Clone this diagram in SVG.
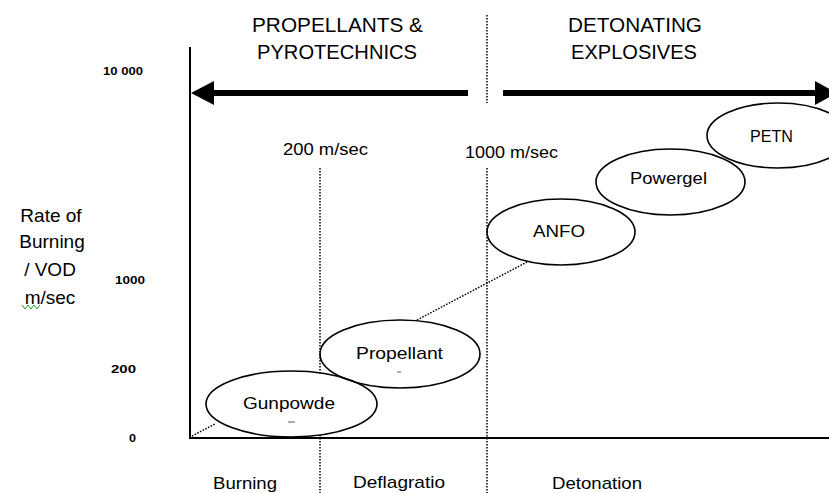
<svg xmlns="http://www.w3.org/2000/svg" width="829" height="493" viewBox="0 0 829 493">
<style>
text{font-family:"Liberation Sans",Arial,sans-serif;fill:#000}
.title{font-size:20px}
.num{font-size:11px;font-weight:bold}
.lbl{font-size:17px}
.axis{font-size:19px}
.dot{stroke:#000;stroke-width:1.5;stroke-dasharray:1.5 1.5;fill:none}
.node{stroke:#000;stroke-width:1.6;fill:none}
.thick{stroke:#000;stroke-width:6}
</style>
<rect width="829" height="493" fill="#fff"/>
<g id="headings">
<text class="title" x="252" y="32" textLength="171" lengthAdjust="spacingAndGlyphs">PROPELLANTS &amp;</text>
<text class="title" x="257" y="59" textLength="160" lengthAdjust="spacingAndGlyphs">PYROTECHNICS</text>
<text class="title" x="568" y="32" textLength="134" lengthAdjust="spacingAndGlyphs">DETONATING</text>
<text class="title" x="571" y="59" textLength="126" lengthAdjust="spacingAndGlyphs">EXPLOSIVES</text>
</g>
<g id="axes">
<line x1="190" y1="47" x2="190" y2="439" stroke="#000" stroke-width="2"/>
<line x1="189" y1="438" x2="829" y2="438" stroke="#000" stroke-width="2"/>
<line class="dot" x1="487" y1="15" x2="487" y2="103"/>
<line class="dot" x1="320" y1="168" x2="320" y2="493"/>
<line class="dot" x1="487" y1="168" x2="487" y2="493"/>
</g>
<g id="arrows">
<line class="thick" x1="210" y1="93" x2="468" y2="93"/>
<polygon points="191,93 214,81 214,105"/>
<line class="thick" x1="503" y1="93" x2="818" y2="93"/>
<polygon points="815,81 837,93 815,105"/>
</g>
<g id="ylabels">
<text class="num" x="103" y="75" textLength="40" lengthAdjust="spacingAndGlyphs">10 000</text>
<text class="num" x="115" y="284" textLength="30" lengthAdjust="spacingAndGlyphs">1000</text>
<text class="num" x="111" y="373" textLength="25" lengthAdjust="spacingAndGlyphs">200</text>
<text class="num" x="129" y="442" textLength="7" lengthAdjust="spacingAndGlyphs">0</text>
<text class="axis" x="51" y="222" text-anchor="middle">Rate of</text>
<text class="axis" x="52" y="248" text-anchor="middle">Burning</text>
<text class="axis" x="50" y="276" text-anchor="middle">/ VOD</text>
<text class="axis" x="50" y="304" text-anchor="middle">m/sec</text>
<polyline points="22,305 25,309 28,305 31,309 34,305 37,309 40,305" fill="none" stroke="#2a9d2a" stroke-width="1"/>
</g>
<g id="speeds">
<text class="lbl" x="283" y="155" textLength="85" lengthAdjust="spacingAndGlyphs" font-size="15">200 m/sec</text>
<text class="lbl" x="465" y="158" textLength="93" lengthAdjust="spacingAndGlyphs" font-size="15">1000 m/sec</text>
</g>
<g id="xlabels">
<text class="lbl" x="213" y="489" textLength="64" lengthAdjust="spacingAndGlyphs">Burning</text>
<text class="lbl" x="353" y="488" textLength="92" lengthAdjust="spacingAndGlyphs">Deflagratio</text>
<text class="lbl" x="552" y="489" textLength="90" lengthAdjust="spacingAndGlyphs">Detonation</text>
</g>
<g id="connectors">
<line class="dot" x1="192" y1="436" x2="215" y2="424"/>
<line class="dot" x1="417" y1="320" x2="527" y2="262"/>
</g>
<g id="gunpowder">
<ellipse cx="291.5" cy="404" rx="85.5" ry="33" fill="#fff" stroke="#000" stroke-width="1.6"/>
<text class="lbl" x="243" y="409" textLength="92" lengthAdjust="spacingAndGlyphs">Gunpowde</text>
<line x1="288" y1="422" x2="295" y2="422" stroke="#777" stroke-width="1.2"/>
</g>
<g id="propellant">
<ellipse class="node" cx="400" cy="354" rx="80" ry="34"/>
<text class="lbl" x="356" y="359" textLength="87" lengthAdjust="spacingAndGlyphs">Propellant</text>
<line x1="397" y1="372" x2="401" y2="372" stroke="#777" stroke-width="1.2"/>
</g>
<g id="anfo">
<ellipse class="node" cx="561" cy="232" rx="74" ry="33"/>
<text class="lbl" x="533" y="237" textLength="52" lengthAdjust="spacingAndGlyphs">ANFO</text>
</g>
<g id="powergel">
<ellipse class="node" cx="670.5" cy="182" rx="74.5" ry="33"/>
<text class="lbl" x="630" y="184" textLength="77" lengthAdjust="spacingAndGlyphs">Powergel</text>
</g>
<g id="petn">
<ellipse class="node" cx="778" cy="135.5" rx="71" ry="32.5"/>
<text class="lbl" x="750" y="142" textLength="43" lengthAdjust="spacingAndGlyphs">PETN</text>
</g>
</svg>
